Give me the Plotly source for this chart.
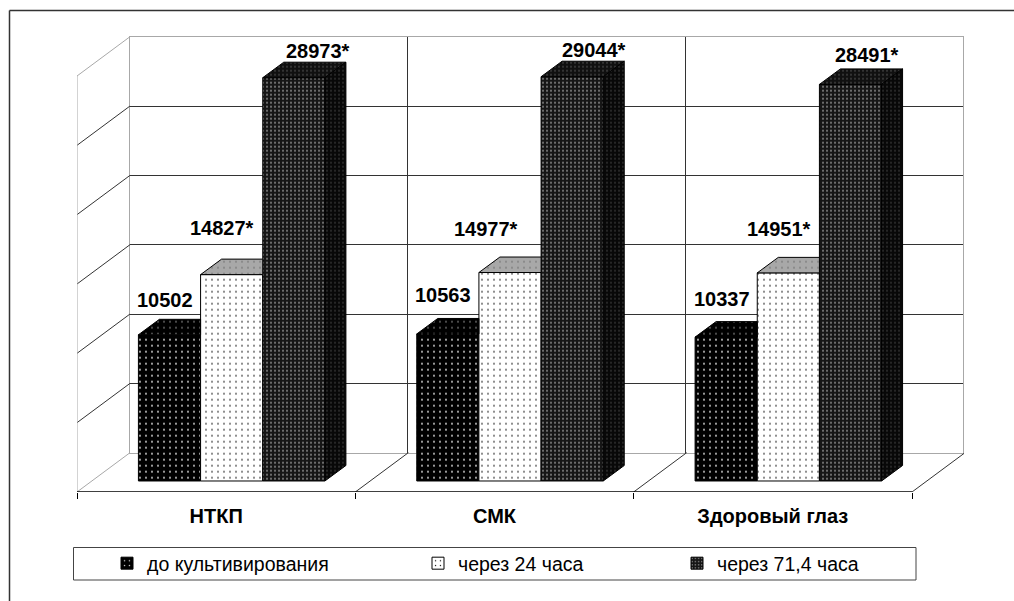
import plotly.graph_objects as go

categories = ["НТКП", "СМК", "Здоровый глаз"]
series_names = ["до культивирования", "через 24 часа", "через 71,4 часа"]
before = [10502, 10563, 10337]
after_24 = [14827, 14977, 14951]
after_71 = [28973, 29044, 28491]
label_before = ["10502", "10563", "10337"]
label_24 = ["14827*", "14977*", "14951*"]
label_71 = ["28973*", "29044*", "28491*"]
grid_values = [5000, 10000, 15000, 20000, 25000]

W, H = 1014, 601
# layout of the false-3D box, in pixels
FRONT_L, BACK_L, BACK_R, FRONT_R = 77, 130, 963, 912
AXIS_Y, BACK_BASE, BACK_TOP, BAR_BASE = 492, 452.7, 36.7, 481
CAT_PX = (FRONT_R - FRONT_L) / 3
PX_PER_VALUE = 0.01392
BAR_SHIFT_PX, GROUP_FRAC = 15.5, 0.67
DEPTH_DX, DEPTH_DY = 21, 15.5
WALL_DX, WALL_DY = BACK_L - FRONT_L, AXIS_Y - BACK_BASE

def xd(px):
    return px / W
def yd(px):
    return 1 - px / H

styles = [
    dict(bg="#000000", fg="#e0e0e0", size=6, sol=0.07, top="#000000", topfg="#d8d8d8"),
    dict(bg="#ffffff", fg="#000000", size=6, sol=0.06, top="#a8a8a8", topfg="#222222"),
    dict(bg="#161616", fg="#d8d8d8", size=4, sol=0.13, top="#101010", topfg="#b0b0b0"),
]
all_series = [before, after_24, after_71]
all_labels = [label_before, label_24, label_71]
# label offsets from each bar's top-centre, pixels (series, category)
label_dx = [[-5, -5, -4], [-10, -24, -9], [24, 22, 17]]
label_dy = [[35, 39, 38], [47, 44, 44], [27, 27, 29]]

fig = go.Figure()

# --- back wall subplot: native gridlines
fig.add_trace(go.Scatter(x=[0], y=[0], mode="markers", marker=dict(opacity=0),
                         showlegend=False, hoverinfo="skip", xaxis="x", yaxis="y"))

unit_dx = 1 / CAT_PX          # px -> x units
unit_dy = 1 / PX_PER_VALUE    # px -> y units

def wall_front_y(v):
    """y2 value of a wall level at the front edge of the left wall."""
    px = BACK_BASE - v * (BACK_BASE - BACK_TOP) / 30000 + WALL_DY
    return (BAR_BASE - px) * unit_dy

def wall_back_y(v):
    px = BACK_BASE - v * (BACK_BASE - BACK_TOP) / 30000
    return (BAR_BASE - px) * unit_dy

x_left = -0.5
x_back_left = x_left + WALL_DX * unit_dx

def line_trace(xs, ys, color, width=1):
    return go.Scatter(x=xs, y=ys, mode="lines", line=dict(color=color, width=width),
                      showlegend=False, hoverinfo="skip", xaxis="x2", yaxis="y2")

# slanted grid lines on the left wall
xs, ys = [], []
for v in grid_values:
    xs += [x_left, x_back_left, None]
    ys += [wall_front_y(v), wall_back_y(v), None]
fig.add_trace(line_trace(xs, ys, "#333333"))
# left wall outline
fig.add_trace(line_trace(
    [x_left, x_left, x_back_left, None, x_left, x_back_left],
    [wall_front_y(0), wall_front_y(30000), wall_back_y(30000), None, wall_front_y(0), wall_back_y(0)],
    "#a8a8a8"))
# floor dividers
xs, ys = [], []
for i in [0.5, 1.5, 2.5]:
    xs += [i, i + WALL_DX * unit_dx, None]
    ys += [wall_front_y(0), wall_back_y(0), None]
fig.add_trace(line_trace(xs, ys, "#333333"))
# axis line at the front
fig.add_trace(line_trace([-0.5, 2.5], [wall_front_y(0), wall_front_y(0)], "#000000", 1.5))

# --- depth faces computed from the data
bar_w = GROUP_FRAC / 3
shift = BAR_SHIFT_PX * unit_dx
ddx, ddy = DEPTH_DX * unit_dx, DEPTH_DY * unit_dy
for s, (vals, st) in enumerate(zip(all_series, styles)):
    for i, v in enumerate(vals):
        x0 = i + shift - GROUP_FRAC / 2 + s * bar_w
        x1 = x0 + bar_w
        last = s == len(all_series) - 1
        xr = x1 + ddx if last else x1
        fig.add_trace(go.Scatter(
            x=[x0, x0 + ddx, xr, x1, x0], y=[v, v + ddy, v + ddy, v, v],
            mode="lines", fill="toself", fillcolor=st["top"],
            fillpattern=dict(shape=".", bgcolor=st["top"], fgcolor=st["topfg"], size=st["size"], solidity=st["sol"]),
            line=dict(color="#000000", width=1),
            showlegend=False, hoverinfo="skip", xaxis="x2", yaxis="y2"))
        if last:
            fig.add_trace(go.Scatter(
                x=[x1, x1 + ddx, x1 + ddx, x1, x1], y=[v, v + ddy, ddy, 0, v],
                mode="lines", fill="toself", fillcolor="#080808",
                fillpattern=dict(shape=".", bgcolor="#080808", fgcolor="#909090", size=4, solidity=0.13),
                line=dict(color="#000000", width=1),
                showlegend=False, hoverinfo="skip", xaxis="x2", yaxis="y2"))

# --- front faces: real bars
legend_ids = ["legend", "legend2", "legend3"]
for s, (name, vals, st) in enumerate(zip(series_names, all_series, styles)):
    fig.add_trace(go.Bar(
        x=[i + shift for i in range(len(categories))], y=vals, name=name,
        legend=legend_ids[s], xaxis="x2", yaxis="y2",
        marker=dict(color=st["bg"], line=dict(color="#000000", width=1),
                    pattern=dict(shape=".", bgcolor=st["bg"], fgcolor=st["fg"],
                                 size=st["size"], solidity=st["sol"], fillmode="replace")),
        hovertemplate="%{y}<extra></extra>"))

annotations = []
for s, (vals, labels) in enumerate(zip(all_series, all_labels)):
    for i, (v, t) in enumerate(zip(vals, labels)):
        annotations.append(dict(
            x=i + shift - GROUP_FRAC / 2 + (s + 0.5) * bar_w, y=v, xref="x2", yref="y2",
            text=t, showarrow=False, xanchor="center", yanchor="middle",
            xshift=label_dx[s][i], yshift=label_dy[s][i],
            font=dict(family="Liberation Sans", size=20, color="#000000", weight="bold")))

LEG_FONT = dict(family="Liberation Sans", size=19.5, color="#000000")
legend_common = dict(bgcolor="rgba(0,0,0,0)", borderwidth=0, xanchor="left", yanchor="middle",
                     y=yd(563.5), orientation="v", itemwidth=30, font=LEG_FONT,
                     itemclick=False, itemdoubleclick=False)

fig.update_layout(
    width=W, height=H, margin=dict(l=0, r=0, t=0, b=0), autosize=False,
    paper_bgcolor="#ffffff", plot_bgcolor="rgba(0,0,0,0)",
    barmode="group", bargap=1 - GROUP_FRAC, bargroupgap=0,
    font=dict(family="Liberation Sans"),
    legend=dict(x=xd(107), **legend_common),
    legend2=dict(x=xd(418), **legend_common),
    legend3=dict(x=xd(677), **legend_common),
    xaxis=dict(domain=[xd(BACK_L), xd(BACK_R)], range=[-0.5, 2.5], tickvals=[0.5, 1.5],
               showticklabels=False, ticks="", showgrid=True, gridcolor="#333333", gridwidth=1,
               zeroline=False, showline=True, linecolor="#a8a8a8", linewidth=1, mirror=True, anchor="y"),
    yaxis=dict(domain=[yd(BACK_BASE), yd(BACK_TOP)], range=[0, 30000], tickvals=grid_values,
               showticklabels=False, ticks="", showgrid=True, gridcolor="#333333", gridwidth=1,
               zeroline=False, showline=True, linecolor="#a8a8a8", linewidth=1, mirror=True, anchor="x"),
    xaxis2=dict(domain=[xd(FRONT_L), xd(BACK_R + 1)], anchor="y2",
                range=[-0.5, -0.5 + (BACK_R + 1 - FRONT_L) * unit_dx],
                tickmode="array", tickvals=[0, 1, 2], ticktext=categories, ticks="",
                tickfont=dict(family="Liberation Sans", size=20, color="#000000", weight="bold"),
                ticklabelstandoff=10, showgrid=False, zeroline=False, showline=False,
                minor=dict(tickmode="array", tickvals=[-0.5, 0.5, 1.5, 2.5], ticks="outside",
                           ticklen=6, tickcolor="#000000", tickwidth=1, showgrid=False)),
    yaxis2=dict(domain=[yd(AXIS_Y), yd(BACK_TOP)], anchor="x2",
                range=[(BAR_BASE - AXIS_Y) * unit_dy, (BAR_BASE - BACK_TOP) * unit_dy],
                showticklabels=False, ticks="", showgrid=False, zeroline=False, showline=False),
    annotations=annotations,
    shapes=[
        dict(type="rect", xref="paper", yref="paper", x0=xd(73.5), x1=xd(916), y0=yd(580), y1=yd(547.5),
             line=dict(color="#444444", width=1), fillcolor="#ffffff", layer="below"),
        dict(type="line", xref="paper", yref="paper", x0=xd(9.5), x1=1, y0=yd(10.5), y1=yd(10.5),
             line=dict(color="#333333", width=1.5)),
        dict(type="line", xref="paper", yref="paper", x0=xd(9.5), x1=xd(9.5), y0=yd(10.5), y1=0,
             line=dict(color="#333333", width=1.5)),
    ],
)

fig.write_html("out.html", config={"displayModeBar": False},
               post_script="document.body.style.margin='0';")
